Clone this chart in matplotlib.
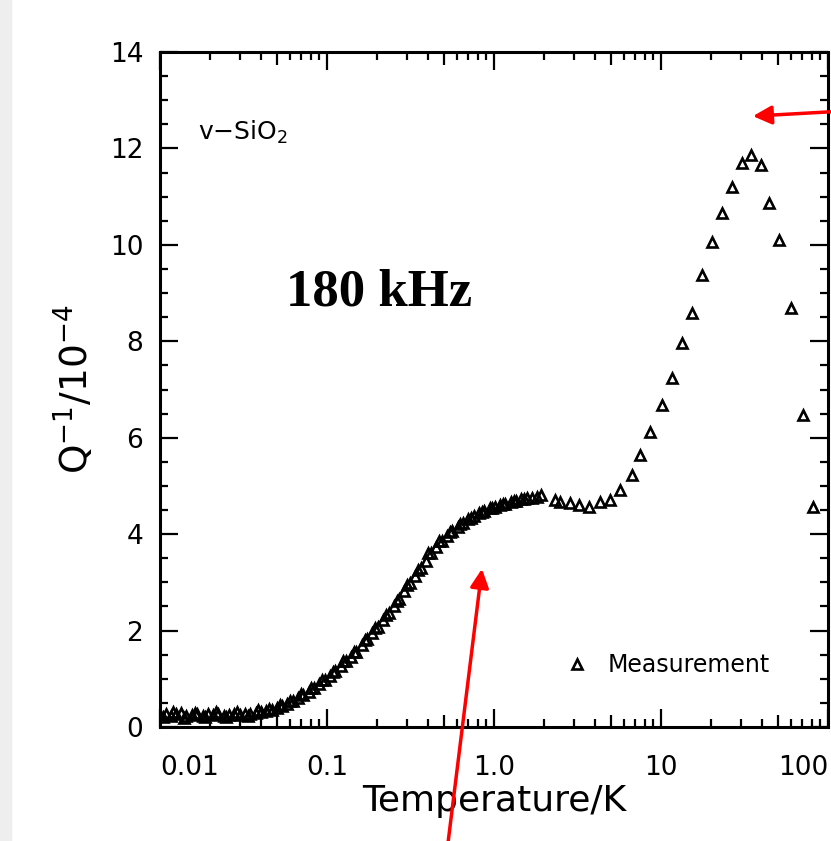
import numpy as np
import matplotlib
matplotlib.use("Agg")
import matplotlib.pyplot as plt
from matplotlib.patches import Rectangle
from matplotlib.ticker import FixedLocator, FixedFormatter, MultipleLocator, NullFormatter

# dense low-temperature part
T_dense = [0.0100, 0.0108, 0.0116, 0.0125, 0.0134, 0.0144, 0.0155, 0.0167, 0.0180, 0.0193,
           0.0208, 0.0224, 0.0241, 0.0259, 0.0279, 0.0300, 0.0323, 0.0347, 0.0374, 0.0402,
           0.0433, 0.0466, 0.0501, 0.0539, 0.0580, 0.0624, 0.0672, 0.0723, 0.0778, 0.0837,
           0.0901, 0.0970, 0.104, 0.112, 0.121, 0.130, 0.140, 0.150, 0.162, 0.174,
           0.187, 0.202, 0.217, 0.234, 0.251, 0.271, 0.291, 0.313, 0.337, 0.363,
           0.390, 0.420, 0.452, 0.486, 0.523, 0.563, 0.606, 0.652, 0.701, 0.755,
           0.812, 0.874, 0.940, 1.01, 1.09, 1.17, 1.26, 1.36, 1.46, 1.57, 1.69, 1.82]
Q_dense = [0.24, 0.28, 0.22, 0.26, 0.29, 0.23, 0.25, 0.27, 0.22, 0.26,
           0.24, 0.28, 0.23, 0.25, 0.27, 0.24, 0.28, 0.26, 0.30, 0.31,
           0.33, 0.36, 0.39, 0.43, 0.48, 0.53, 0.60, 0.66, 0.73, 0.80,
           0.90, 0.98, 1.06, 1.16, 1.26, 1.36, 1.46, 1.56, 1.70, 1.82,
           1.95, 2.08, 2.22, 2.37, 2.50, 2.66, 2.82, 2.98, 3.13, 3.30,
           3.45, 3.60, 3.74, 3.86, 3.96, 4.06, 4.15, 4.23, 4.31, 4.38,
           4.44, 4.49, 4.54, 4.57, 4.60, 4.63, 4.66, 4.69, 4.72, 4.74, 4.76, 4.78]

# second run in the dense part (the band is thicker than one row of marks)
T_dense2 = [0.0104, 0.0120, 0.0139, 0.0161, 0.0186, 0.0216, 0.0250, 0.0290, 0.0335, 0.0388,
            0.0450, 0.0520, 0.0602, 0.0697, 0.0807, 0.0934, 0.108, 0.125, 0.145, 0.168,
            0.194, 0.225, 0.261, 0.302, 0.350, 0.405, 0.469, 0.543, 0.629, 0.728,
            0.843, 0.976, 1.13, 1.31, 1.51]
Q_dense2 = [0.20, 0.31, 0.19, 0.30, 0.20, 0.31, 0.21, 0.31, 0.22, 0.35,
            0.38, 0.45, 0.53, 0.68, 0.80, 0.98, 1.14, 1.36, 1.55, 1.80,
            2.05, 2.32, 2.62, 2.94, 3.26, 3.60, 3.86, 4.05, 4.22, 4.34,
            4.46, 4.55, 4.62, 4.68, 4.72]

# sparse high-temperature part
T_sparse = [1.90, 2.31, 2.50, 2.87, 3.25, 3.73, 4.33, 4.97, 5.70, 6.72,
            7.50, 8.60, 10.1, 11.6, 13.3, 15.3, 17.5, 20.1, 23.1, 26.5,
            30.4, 34.8, 39.9, 44.5, 51.1, 60.2, 71.0, 81.4]
Q_sparse = [4.81, 4.71, 4.67, 4.65, 4.61, 4.56, 4.67, 4.71, 4.92, 5.23,
            5.64, 6.12, 6.68, 7.24, 7.97, 8.59, 9.38, 10.06, 10.66, 11.20,
            11.70, 11.87, 11.66, 10.87, 10.10, 8.70, 6.47, 4.56]

x_ticks = [0.01, 0.1, 1.0, 10, 100]
x_labels = ["0.01", "0.1", "1.0", "10", "100"]
x_fives = [0.05, 0.5, 5, 50]

fig = plt.figure(figsize=(8.31, 8.41), dpi=100)
fig.add_artist(Rectangle((0, 0), 11 / 831, 1, transform=fig.transFigure,
                         color="#eeeeee", zorder=0))
ax = fig.add_axes([160 / 831, 114 / 841, 668 / 831, 675 / 841])

mk = dict(linestyle="none", marker="^", markersize=7, markerfacecolor="none",
          markeredgecolor="black", markeredgewidth=1.9)
ax.plot(T_dense2, Q_dense2, **mk)
ax.plot(T_dense + T_sparse, Q_dense + Q_sparse, label="Measurement", **mk)

ax.set_xscale("log")
ax.set_xlim(0.01, 100)
ax.set_ylim(0, 14)

major_locs = sorted(x_ticks + x_fives)
ax.xaxis.set_major_locator(FixedLocator(major_locs))
ax.xaxis.set_major_formatter(FixedFormatter(
    [x_labels[x_ticks.index(v)] if v in x_ticks else "" for v in major_locs]))
minor_locs = [d * m for d in [0.01, 0.1, 1, 10] for m in [2, 3, 4, 6, 7, 8, 9]]
ax.xaxis.set_minor_locator(FixedLocator(minor_locs))
ax.xaxis.set_minor_formatter(NullFormatter())

ax.yaxis.set_major_locator(MultipleLocator(2))
ax.yaxis.set_minor_locator(MultipleLocator(0.5))

ax.tick_params(which="both", direction="in", top=True, right=True, width=1.6,
               labelsize=19)
ax.tick_params(which="major", length=13)
ax.tick_params(which="minor", length=6)
ax.tick_params(axis="x", which="major", pad=20)
ax.tick_params(axis="y", which="major", pad=12)

for t, v in zip(ax.xaxis.get_major_ticks(), major_locs):
    if v in x_fives:
        t.tick1line.set_markersize(9)
        t.tick2line.set_markersize(9)

labs = ax.get_xticklabels()
labs[0].set_horizontalalignment("left")
labs[-1].set_horizontalalignment("right")

for s in ax.spines.values():
    s.set_linewidth(2.2)

ax.set_xlabel("Temperature/K", fontsize=26, labelpad=2)
ax.set_ylabel("Q$^{-1}$/10$^{-4}$", fontsize=27, labelpad=10)

ax.text(0.057, 0.870, "v$-$SiO$_2$", transform=ax.transAxes, fontsize=18,
        va="baseline", ha="left")
ax.text(0.188, 0.625, "180 kHz", transform=ax.transAxes, fontsize=38,
        fontfamily="Liberation Serif", fontweight="bold", va="baseline", ha="left")

ax.legend(loc="center left", bbox_to_anchor=(0.606, 0.092), frameon=False,
          fontsize=17, handlelength=1.0, handletextpad=0.8, borderpad=0,
          borderaxespad=0)

# red arrows
arrow = dict(arrowstyle="-|>", color="red", lw=2.5, mutation_scale=28,
             shrinkA=0, shrinkB=0)
ax.annotate("", xy=(0.847, 3.28), xycoords="data",
            xytext=(447, -10), textcoords="figure pixels", arrowprops=arrow,
            annotation_clip=False)
ax.annotate("", xy=(35.5, 12.67), xycoords="data",
            xytext=(845, 730), textcoords="figure pixels", arrowprops=arrow,
            annotation_clip=False)

fig.savefig("out.png", dpi=100)
